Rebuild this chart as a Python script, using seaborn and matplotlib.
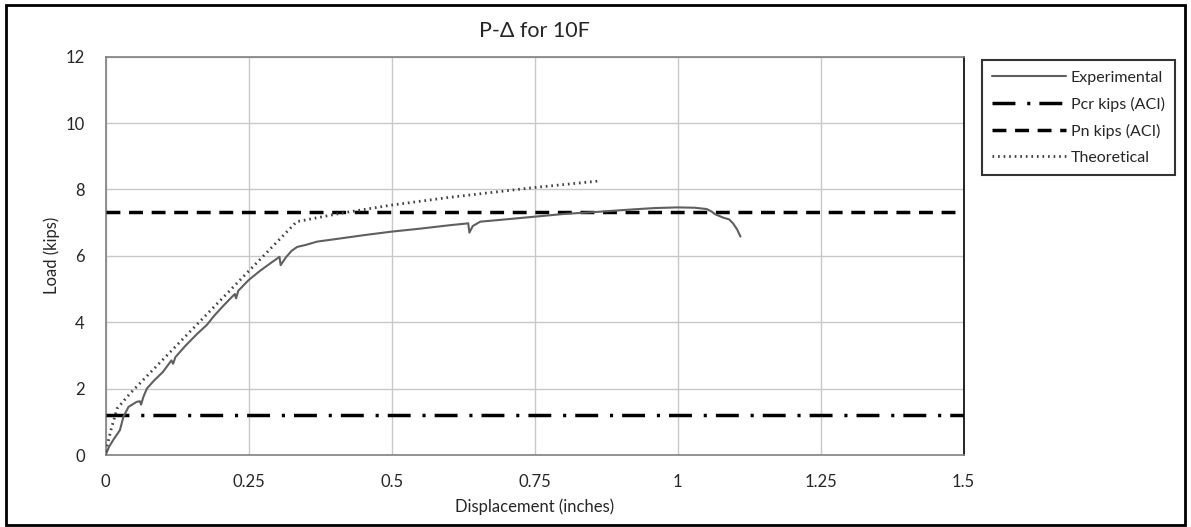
import matplotlib
matplotlib.use("Agg")
import matplotlib.pyplot as plt
import seaborn as sns
import pandas as pd
from matplotlib.patches import Rectangle

# Measured load-displacement response of specimen 10F
exp_disp = [0, 0.006, 0.015, 0.025, 0.031, 0.04, 0.054, 0.06, 0.062, 0.066, 0.072,
            0.085, 0.1, 0.115, 0.118, 0.122, 0.14, 0.16, 0.177, 0.19, 0.206, 0.22,
            0.226, 0.228, 0.232, 0.25, 0.27, 0.29, 0.304, 0.306, 0.315, 0.325,
            0.335, 0.35, 0.37, 0.4, 0.45, 0.5, 0.55, 0.6, 0.634, 0.636, 0.642,
            0.655, 0.7, 0.75, 0.8, 0.864, 0.922, 0.96, 1.0, 1.03, 1.051, 1.06,
            1.065, 1.08, 1.09, 1.097, 1.104, 1.11]
exp_load = [0, 0.25, 0.5, 0.75, 1.15, 1.45, 1.6, 1.62, 1.52, 1.75, 2.0,
            2.25, 2.5, 2.85, 2.75, 2.95, 3.3, 3.65, 3.92, 4.2, 4.5, 4.75,
            4.85, 4.72, 4.95, 5.27, 5.55, 5.8, 5.97, 5.72, 5.95, 6.15,
            6.27, 6.33, 6.43, 6.5, 6.62, 6.73, 6.82, 6.92, 6.98, 6.7, 6.9,
            7.03, 7.1, 7.18, 7.26, 7.33, 7.4, 7.44, 7.46, 7.45, 7.41, 7.33,
            7.26, 7.15, 7.1, 6.98, 6.8, 6.58]

# Theoretical prediction
theo_disp = [0, 0.01, 0.02, 0.043, 0.334, 0.41, 0.5, 0.6, 0.75, 0.86]
theo_load = [0.1, 0.8, 1.4, 1.86, 7.03, 7.28, 7.53, 7.76, 8.06, 8.25]

# ACI reference loads (kips)
pcr_load = 1.2
pn_load = 7.31
ref_span = [0, 1.5]

x_ticks = [0, 0.25, 0.5, 0.75, 1, 1.25, 1.5]
x_tick_labels = ["0", "0.25", "0.5", "0.75", "1", "1.25", "1.5"]
y_ticks = [0, 2, 4, 6, 8, 10, 12]

sns.set_theme(style="white")
plt.rcParams["font.family"] = ["Lato", "DejaVu Sans"]

fig = plt.figure(figsize=(11.91, 5.27), dpi=100)
ax = fig.add_axes([0.0887, 0.1366, 0.7203, 0.7558])

exp_df = pd.DataFrame({"disp": exp_disp, "load": exp_load})
theo_df = pd.DataFrame({"disp": theo_disp, "load": theo_load})
pcr_df = pd.DataFrame({"disp": ref_span, "load": [pcr_load, pcr_load]})
pn_df = pd.DataFrame({"disp": ref_span, "load": [pn_load, pn_load]})

sns.lineplot(data=exp_df, x="disp", y="load", sort=False, ax=ax,
             color="#5f5f5f", linewidth=1.5, label="Experimental", zorder=4)
sns.lineplot(data=pcr_df, x="disp", y="load", ax=ax, color="black",
             linewidth=2.5, label="Pcr kips (ACI)", zorder=3)
ax.lines[-1].set_dashes([6.6, 3.4, 0.9, 2.6])
sns.lineplot(data=pn_df, x="disp", y="load", ax=ax, color="black",
             linewidth=2.5, label="Pn kips (ACI)", zorder=3)
ax.lines[-1].set_dashes([4, 2.5])
sns.lineplot(data=theo_df, x="disp", y="load", sort=False, ax=ax,
             color="#404040", linewidth=2, label="Theoretical", zorder=5)
ax.lines[-1].set_dashes([0.6, 1.4])

ax.set_xlim(0, 1.5)
ax.set_ylim(0, 12)
ax.set_xticks(x_ticks)
ax.set_xticklabels(x_tick_labels)
ax.set_yticks(y_ticks)
ax.grid(True, color="#c8c8c8", linewidth=1)
ax.set_axisbelow(True)
ax.tick_params(axis="both", length=0, labelsize=12, colors="#262626")
ax.tick_params(axis="y", pad=15)
ax.tick_params(axis="x", pad=14)

for side in ["left", "bottom", "top"]:
    ax.spines[side].set_color("#808080")
    ax.spines[side].set_linewidth(1.2)
ax.spines["right"].set_color("black")
ax.spines["right"].set_linewidth(1.2)

ax.set_xlabel("Displacement (inches)", fontsize=12, color="#262626", labelpad=6)
ax.set_ylabel("Load (kips)", fontsize=12, color="#262626", labelpad=4)
ax.set_title("P-Δ for 10F", fontsize=15.5, color="#262626", pad=14)

leg = ax.legend(loc="upper left", bbox_to_anchor=(0.8245, 0.886),
                bbox_transform=fig.transFigure, borderaxespad=0,
                frameon=True, fancybox=False, fontsize=11.5,
                handlelength=4.6, handletextpad=0.3, borderpad=0.65,
                labelspacing=0.75)
leg.get_frame().set_edgecolor("black")
leg.get_frame().set_linewidth(1.5)
for t in leg.get_texts():
    t.set_color("#262626")

# Chart border
fig.patches.append(Rectangle((0.005, 0.004), 0.99, 0.987, transform=fig.transFigure,
                             fill=False, edgecolor="black", linewidth=2))

fig.savefig("out.png", dpi=100)
